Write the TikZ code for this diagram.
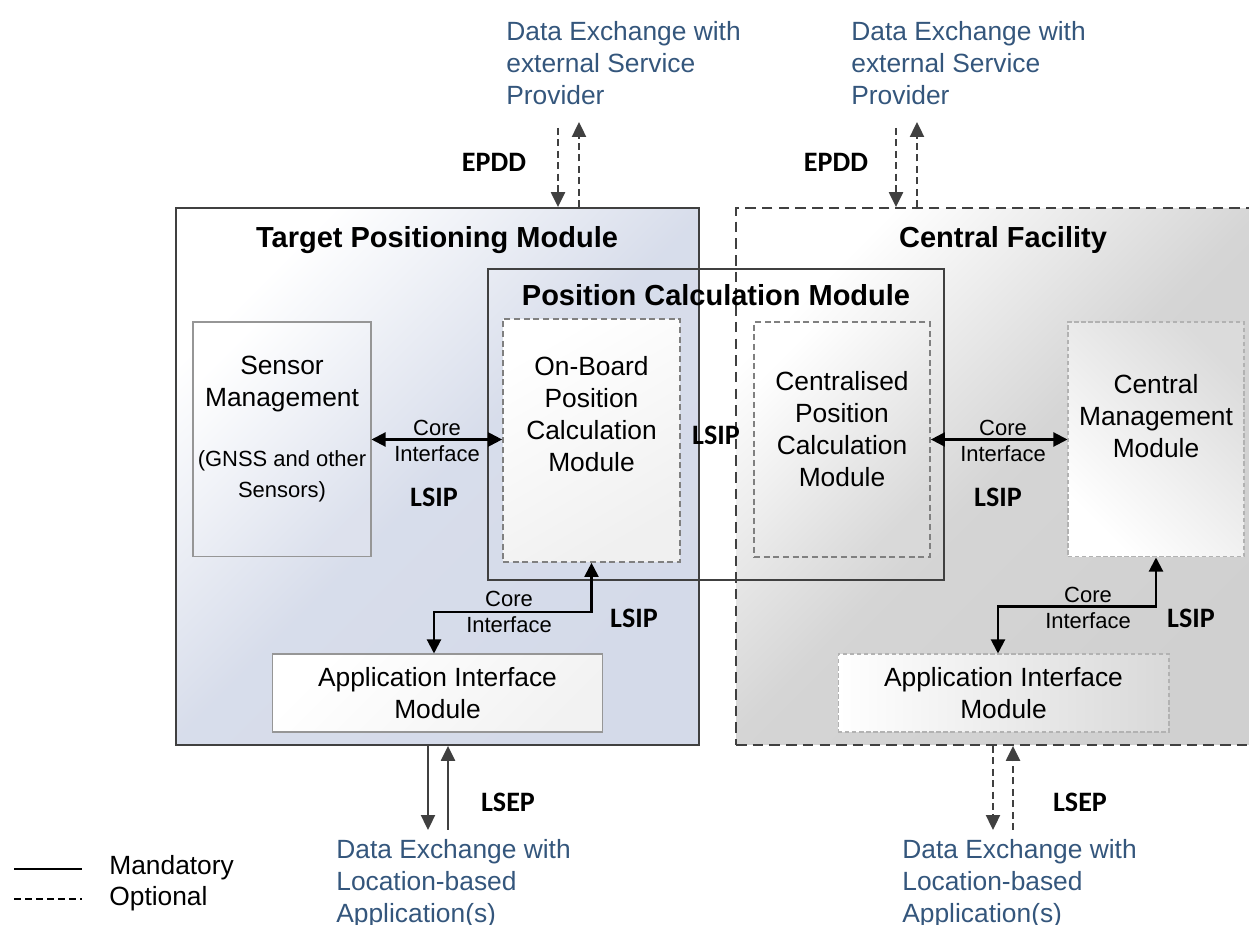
\documentclass[tikz,border=0pt]{standalone}
\usepackage{fontspec}
\setmainfont{Liberation Sans}
\newfontfamily\calibri{Carlito}
\usetikzlibrary{arrows.meta}
\definecolor{extblue}{RGB}{52,86,124}
\definecolor{frame}{RGB}{64,64,64}
\definecolor{tpmblue}{RGB}{212,218,233}
\definecolor{cfgray}{RGB}{208,208,208}
\definecolor{boxgray}{RGB}{150,150,150}
\begin{document}
\begin{tikzpicture}[x=0.02cm, y=-0.02cm,
    every node/.style={font=\fontsize{15}{18.1}\selectfont, inner sep=0pt},
    heading/.style={font=\fontsize{16.5}{20}\selectfont\bfseries, anchor=base},
    ifc/.style={font=\calibri\fontsize{16}{19}\selectfont\bfseries, anchor=base},
    coretext/.style={align=center, font=\fontsize{12.5}{15.3}\selectfont},
    boxtext/.style={align=center},
    exttext/.style={align=left, text=extblue, anchor=north west},
    modbox/.style={draw=boxgray, line width=0.6pt},
    optbox/.style={draw=gray, line width=1pt, dash pattern=on 3.5pt off 2pt},
    lightbox/.style={draw=gray!60, line width=0.6pt, dash pattern=on 2.5pt off 1.5pt},
    corelink/.style={line width=1.2pt, {Triangle[width=8pt,length=8pt]}-{Triangle[width=8pt,length=8pt]}},
    mandlink/.style={draw=frame, line width=1.1pt, -{Triangle[width=8pt,length=8.5pt]}},
    optlink/.style={mandlink, dash pattern=on 4pt off 2.5pt}]
    \useasboundingbox (0,0) rectangle (1249,925);
    \node[draw=frame, line width=1.1pt, top color=white, bottom color=tpmblue, middle color=tpmblue!92!white, shading angle=45, minimum width=10.46cm, minimum height=10.74cm] (tpm) at (437.5,476.5) {};
    \node[draw=frame, line width=1.1pt, dash pattern=on 6pt off 3.5pt, top color=white, bottom color=cfgray, middle color=cfgray!90!white, shading angle=45, minimum width=10.52cm, minimum height=10.74cm] (cf) at (999,476.5) {};
    \node[draw=frame, line width=1.1pt, minimum width=9.12cm, minimum height=6.22cm] (pcm) at (716,424.5) {};
    \node[heading] (tpmtitle) at (437,248) {Target Positioning Module};
    \node[heading] (cftitle) at (1003,248) {Central Facility};
    \node[heading] (pcmtitle) at (716,306) {Position Calculation Module};

    \node[modbox, top color=white, bottom color=tpmblue!80!white, shading angle=45, minimum width=3.56cm, minimum height=4.7cm] (sensor) at (282,439.5) {};
    \node[optbox, top color=white, bottom color=gray!12, shading angle=30, minimum width=3.54cm, minimum height=4.86cm] (onboard) at (591.5,440.5) {};
    \node[optbox, top color=white, bottom color=gray!30, shading angle=45, minimum width=3.52cm, minimum height=4.7cm] (cpcm) at (842,439.5) {};
    \node[lightbox, top color=white, bottom color=gray!28, shading angle=135, minimum width=3.52cm, minimum height=4.7cm] (cmm) at (1156,439.5) {};
    \node[modbox, top color=white, bottom color=gray!10, shading angle=45, minimum width=6.62cm, minimum height=1.56cm, align=center] (aiml) at (437.5,693) {Application Interface\\Module};
    \node[lightbox, top color=white, bottom color=gray!30, shading angle=90, minimum width=6.62cm, minimum height=1.56cm, align=center] (aimr) at (1003.5,693) {Application Interface\\Module};

    \node[boxtext] (sensortxt) at (282,384) {Sensor\\Management};
    \node[boxtext, font=\fontsize{12.5}{17.6}\selectfont] (gnsstxt) at (282,476) {(GNSS and other\\Sensors)};
    \node[boxtext] (onboardtxt) at (591.5,414) {On-Board\\Position\\Calculation\\Module};
    \node[boxtext] (cpcmtxt) at (842,429) {Centralised\\Position\\Calculation\\Module};
    \node[boxtext] (cmmtxt) at (1156,416) {Central\\Management\\Module};

    \draw[corelink] (sensor.east) -- (sensor.east -| onboard.west);
    \draw[corelink] (cpcm.east) -- (cpcm.east -| cmm.west);
    \draw[corelink] (onboard.south) -- ++(0,49) -| ([xshift=-0.07cm]aiml.north);
    \draw[corelink] (cmm.south) -- ++(0,49) -| ([xshift=-0.11cm]aimr.north);
    \node[coretext] (coresensor) at (437,441) {Core\\Interface};
    \node[coretext] (corecentral) at (1003,441) {Core\\Interface};
    \node[coretext] (coreaiml) at (509,612) {Core\\Interface};
    \node[coretext] (coreaimr) at (1088,608) {Core\\Interface};

    \node[ifc] (lsipa) at (434,507) {LSIP};
    \node[ifc] (lsipb) at (716,445) {LSIP};
    \node[ifc] (lsipc) at (998,507) {LSIP};
    \node[ifc] (lsipd) at (634,628) {LSIP};
    \node[ifc] (lsipe) at (1191,628) {LSIP};
    \node[ifc] (epdda) at (494,172) {EPDD};
    \node[ifc] (epddb) at (836,172) {EPDD};
    \node[ifc] (lsepa) at (508,812) {LSEP};
    \node[ifc] (lsepb) at (1080,812) {LSEP};

    \node[exttext] (spa) at (506,21) {Data Exchange with\\external Service\\Provider};
    \node[exttext] (spb) at (851,21) {Data Exchange with\\external Service\\Provider};
    \node[exttext] (appa) at (336,839) {Data Exchange with\\Location-based\\Application(s)};
    \node[exttext] (appb) at (902,839) {Data Exchange with\\Location-based\\Application(s)};

    \coordinate (spadown) at (558,128);
    \coordinate (spaup) at (579,122);
    \coordinate (spbdown) at (896,128);
    \coordinate (spbup) at (917,122);
    \coordinate (appadown) at (428,830);
    \coordinate (appaup) at (448,830);
    \coordinate (appbdown) at (993,830);
    \coordinate (appbup) at (1013,830);
    \draw[optlink] (spadown) -- (spadown |- tpm.north);
    \draw[optlink] (spaup |- tpm.north) -- (spaup);
    \draw[optlink] (spbdown) -- (spbdown |- cf.north);
    \draw[optlink] (spbup |- cf.north) -- (spbup);
    \draw[mandlink] (appadown |- tpm.south) -- (appadown);
    \draw[mandlink] (appaup) -- (appaup |- tpm.south);
    \draw[optlink] (appbdown |- cf.south) -- (appbdown);
    \draw[optlink] (appbup) -- (appbup |- cf.south);

    \node[anchor=west] (mand) at (109,868) {Mandatory};
    \node[anchor=west] (opt) at (109,899) {Optional};
    \draw[line width=0.8pt] (14,869) -- (82,869);
    \draw[line width=0.8pt, dash pattern=on 4pt off 2.3pt] (14,899) -- (82,899);
\end{tikzpicture}
\end{document}
